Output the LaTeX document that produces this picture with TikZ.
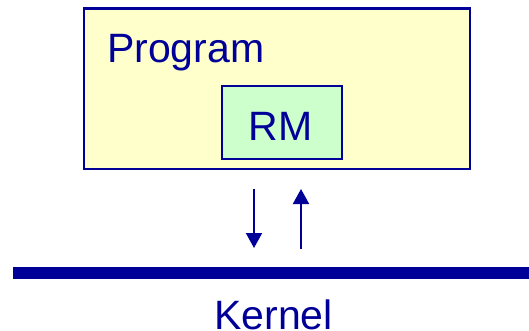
\documentclass[tikz,border=0pt]{standalone}
\usepackage{fontspec}
\setmainfont{Liberation Sans}
\usetikzlibrary{arrows.meta}
\definecolor{navy}{HTML}{000099}
\definecolor{paleyellow}{HTML}{FFFFCC}
\definecolor{palegreen}{HTML}{CCFFCC}
\tikzset{
  box/.style={draw=navy,line width=2.2pt,inner sep=0pt},
  word/.style={text=navy,inner sep=0pt,font=\fontsize{41}{41}\selectfont},
  call/.style={draw=navy,line width=2pt,-{Triangle[length=15pt,width=16pt]}}
}

\begin{document}
\begin{tikzpicture}[x=1pt,y=-1pt]
			%%Location
			\useasboundingbox (0,0) rectangle (529,330);
			%%Program box
			\node[box,fill=paleyellow,minimum width=386pt,minimum height=160.8pt] (program) at (277,88.9) {};
			\node[word,anchor=base west] (programlabel) at (107,62) {Program};
			\node[box,fill=palegreen,minimum width=120pt,minimum height=72.7pt] (rm) at (281.7,122.3) {};
			\node[word,anchor=base] (rmlabel) at (280.7,140) {RM};
			%%Kernel
			\coordinate (kleft) at (13,273.3);
			\coordinate (kright) at (529,273.3);
			\draw[navy,line width=12pt] (kleft) -- (kright);
			\node[word,anchor=base] (kernel) at (273.5,329.5) {Kernel};
			%%Calls
			\coordinate (downtop) at (254,189);
			\coordinate (downtip) at (254,248);
			\coordinate (upfoot) at (301,249);
			\coordinate (uptip) at (301,189);
			\draw[call] (downtop) -- (downtip);
			\draw[call] (upfoot) -- (uptip);
\end{tikzpicture}
\end{document}
